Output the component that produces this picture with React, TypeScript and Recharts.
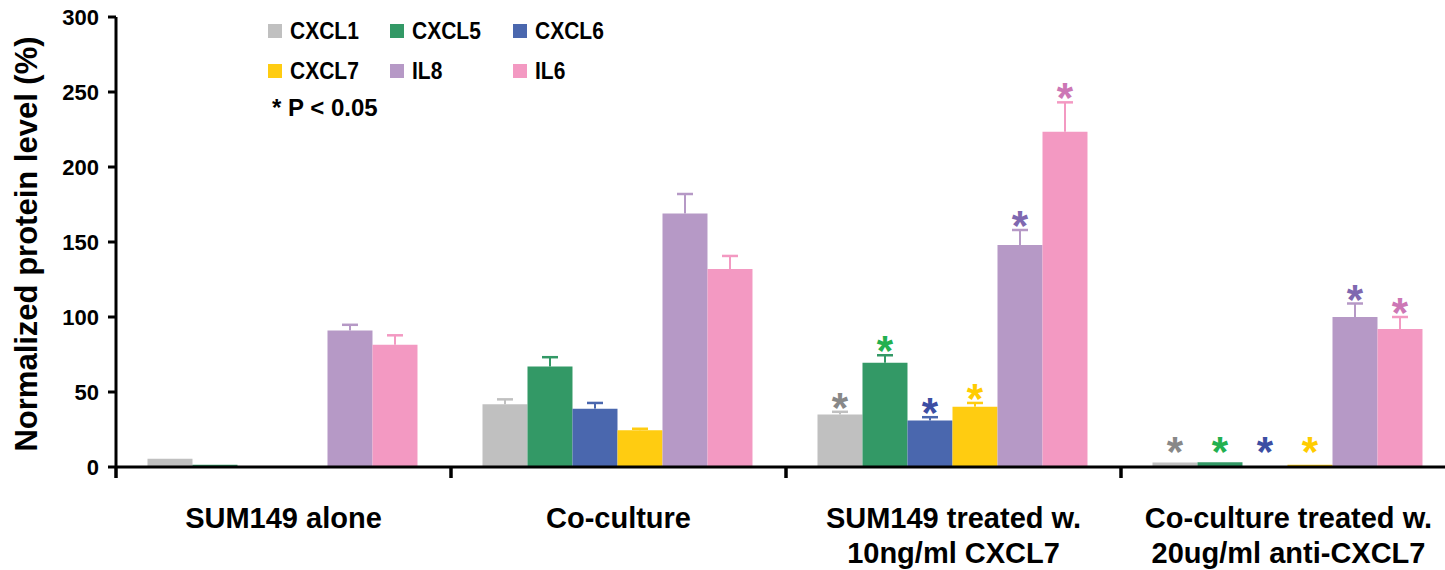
import { BarChart, Bar, XAxis, YAxis, Legend, LabelList } from "recharts";

const FONT = "'Liberation Sans', Arial, Helvetica, sans-serif";

const GROUPS = [
  "SUM149 alone",
  "Co-culture",
  "SUM149 treated w.\n10ng/ml CXCL7",
  "Co-culture treated w.\n20ug/ml anti-CXCL7",
];

const SERIES = ["CXCL1", "CXCL5", "CXCL6", "CXCL7", "IL8", "IL6"];

// mean protein level per group (%)
const CXCL1 = [5.5, 41.8, 35, 3];
const CXCL5 = [1.5, 67, 69.5, 3.2];
const CXCL6 = [0, 38.9, 31, 0];
const CXCL7 = [0, 24.5, 40.2, 1.5];
const IL8 = [91, 169, 148, 100];
const IL6 = [81.5, 132, 223.5, 92];

// upper error (SD)
const CXCL1_ERR = [0, 3.3, 1.8, 0];
const CXCL5_ERR = [0, 6.2, 5, 0];
const CXCL6_ERR = [0, 3.8, 2.2, 0];
const CXCL7_ERR = [0, 1, 2.5, 0];
const IL8_ERR = [3.8, 13, 10, 9];
const IL6_ERR = [6.3, 8.7, 19.6, 8];

// P < 0.05 vs. control
const SIGNIFICANT = [false, false, true, true];

const Y_TICKS = [0, 50, 100, 150, 200, 250, 300];

const VALUES = [CXCL1, CXCL5, CXCL6, CXCL7, IL8, IL6];
const ERRORS = [CXCL1_ERR, CXCL5_ERR, CXCL6_ERR, CXCL7_ERR, IL8_ERR, IL6_ERR];

const BAR_COLORS = ["#c0c0c0", "#339966", "#4a67ae", "#ffcc11", "#b699c6", "#f399c2"];
const STAR_COLORS = ["#888888", "#22b04f", "#3c4ea3", "#ffcc00", "#7f68b0", "#cc77b5"];

// chart layout
const CHART_W = 1460;
const CHART_H = 570;
const MARGIN_TOP = 17;
const X_AXIS_H = 103;
const BASELINE_Y = CHART_H - X_AXIS_H;

const data = GROUPS.map((group, g) => {
  const row: Record<string, string | number> = { group };
  SERIES.forEach((s, i) => {
    row[s] = VALUES[i][g];
    row[`${s}_err`] = ERRORS[i][g];
    row[`${s}_sig`] = SIGNIFICANT[g] ? "*" : "";
  });
  return row;
});

function GroupTick(props: any) {
  const { x, y, payload } = props;
  const half = payload?.offset ?? 0;
  const lines = String(payload.value).split("\n");
  return (
    <g>
      <line x1={x - half} x2={x - half} y1={y} y2={y + 11} stroke="#000" strokeWidth={3.5} />
      {lines.map((t, i) => (
        <text
          key={i}
          x={x}
          y={y + 61 + i * 35}
          textAnchor="middle"
          fontSize={29}
          fontWeight="bold"
          fontFamily={FONT}
          fill="#000"
        >
          {t}
        </text>
      ))}
    </g>
  );
}

// error whisker drawn on the stacked segment that sits on top of each bar
const errShape = (color: string) => (props: any) => {
  const { x, y, width, height } = props;
  if (!height || height < 0.5) return <g />;
  const cx = x + width / 2;
  return (
    <g>
      <line x1={cx} x2={cx} y1={y} y2={y + height} stroke={color} strokeWidth={2} />
      <line x1={cx - 8} x2={cx + 8} y1={y} y2={y} stroke={color} strokeWidth={2.5} />
    </g>
  );
};

// asterisk sits ~14px above the whisker, but never closer than 25px to the baseline
const starContent = (color: string) => (props: any) => {
  const vb = props.viewBox ?? props;
  if (!props.value) return null;
  const centerY = Math.min(vb.y - 14, BASELINE_Y - 25);
  return (
    <text
      x={vb.x + vb.width / 2}
      y={centerY + 24}
      textAnchor="middle"
      fill={color}
      fontSize={42}
      fontWeight="bold"
      fontFamily={FONT}
    >
      *
    </text>
  );
};

const LEG_X = [0, 122, 245];

function LegendBox() {
  return (
    <div style={{ position: "relative", width: 420, height: 110, fontFamily: FONT, fontWeight: "bold", color: "#000" }}>
      {SERIES.map((s, i) => (
        <div
          key={s}
          style={{
            position: "absolute",
            left: LEG_X[i % 3],
            top: Math.floor(i / 3) * 40,
            height: 22,
            display: "flex",
            alignItems: "center",
            whiteSpace: "nowrap",
          }}
        >
          <span style={{ display: "inline-block", width: 14, height: 14, background: BAR_COLORS[i], marginRight: 8 }} />
          <span style={{ fontSize: 21, display: "inline-block", transform: "scaleY(1.1)" }}>{s}</span>
        </div>
      ))}
      <div style={{ position: "absolute", left: 4, top: 74, fontSize: 24, whiteSpace: "nowrap" }}>* P &lt; 0.05</div>
    </div>
  );
}

export default function App() {
  return (
    <div style={{ position: "absolute", left: 0, top: 0, width: 1445, height: CHART_H, overflow: "hidden", background: "#fff" }}>
      <BarChart
        width={CHART_W}
        height={CHART_H}
        data={data}
        margin={{ top: MARGIN_TOP, right: 4, left: 0, bottom: 0 }}
        barGap={0}
        barCategoryGap="9.4%"
      >
        <XAxis
          dataKey="group"
          height={X_AXIS_H}
          tickLine={false}
          tickSize={0}
          tickMargin={0}
          axisLine={{ stroke: "#000", strokeWidth: 3 }}
          tick={<GroupTick />}
          interval={0}
        />
        <YAxis
          domain={[0, 300]}
          ticks={Y_TICKS}
          width={116}
          tickSize={8}
          tickMargin={9}
          axisLine={{ stroke: "#000", strokeWidth: 3 }}
          tickLine={{ stroke: "#000", strokeWidth: 3 }}
          tick={{ fill: "#000", fontSize: 22, fontWeight: "bold", fontFamily: FONT }}
          label={{
            content: (p: any) => {
              const vb = p.viewBox;
              return (
                <text
                  transform={`translate(37,${vb.y + vb.height / 2 + 2}) rotate(-90)`}
                  textAnchor="middle"
                  fontSize={31}
                  fontWeight="bold"
                  fontFamily={FONT}
                  fill="#000"
                >
                  Normalized protein level (%)
                </text>
              );
            },
          }}
        />
        <Legend
          layout="horizontal"
          verticalAlign="middle"
          align="center"
          wrapperStyle={{ left: 268, top: 20, width: 420, height: 110 }}
          content={() => <LegendBox />}
        />
        {SERIES.flatMap((s, i) => [
          <Bar key={s} dataKey={s} stackId={s} fill={BAR_COLORS[i]} isAnimationActive={false} />,
          <Bar
            key={`${s}_err`}
            dataKey={`${s}_err`}
            stackId={s}
            fill="none"
            legendType="none"
            shape={errShape(BAR_COLORS[i])}
            isAnimationActive={false}
          >
            <LabelList dataKey={`${s}_sig`} content={starContent(STAR_COLORS[i])} />
          </Bar>,
        ])}
      </BarChart>
    </div>
  );
}
